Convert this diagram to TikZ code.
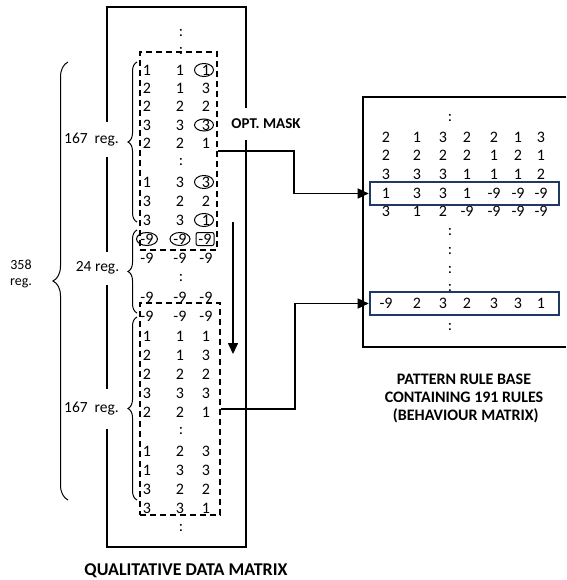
\documentclass[tikz,border=0pt]{standalone}
\usepackage{fontspec}
\setmainfont{Carlito}
\usetikzlibrary{arrows.meta,decorations.pathreplacing,calc}
\definecolor{navy}{RGB}{31,56,100}
\newcommand\lrow[5]{%
  \node[txt] (#1a) at (147,#2) {#3};
  \node[txt] (#1b) at (180,#2) {#4};
  \node[txt] (#1c) at (206,#2) {#5};}
\newcommand\rrow[9]{%
  \node[txt] (#1a) at (386,#2) {#3};
  \node[txt] (#1b) at (417,#2) {#4};
  \node[txt] (#1c) at (443,#2) {#5};
  \node[txt] (#1d) at (467,#2) {#6};
  \node[txt] (#1e) at (494,#2) {#7};
  \node[txt] (#1f) at (518,#2) {#8};
  \node[txt] (#1g) at (541,#2) {#9};}
\begin{document}
\begin{tikzpicture}[x=1pt,y=-1pt,
  txt/.style={inner sep=0pt,font=\fontsize{16}{19}\selectfont},
  lbl/.style={fill=white,inner xsep=2pt,inner ysep=0pt,font=\fontsize{15.5}{18}\selectfont},
  captxt/.style={inner sep=0pt,align=center,font=\fontsize{16}{18}\selectfont\bfseries},
  solidbox/.style={draw,line width=1.3pt,inner sep=0pt},
  dbox/.style={draw,line width=1.8pt,dash pattern=on 6pt off 4pt,inner sep=0pt},
  hbox/.style={draw=navy,line width=2.6pt,inner sep=0pt,minimum width=189pt,minimum height=23pt},
  ring/.style={line width=1pt},
  brc/.style={decorate,line width=1pt,decoration={brace,amplitude=#1}},
  arr/.style={line width=1.6pt,-{Triangle[length=11pt,width=10pt]}},
  plain/.style={line width=1.6pt}]
\useasboundingbox (0,0) rectangle (566,580);

% big data matrix box
\node[solidbox,minimum width=139pt,minimum height=540pt] (bigbox) at (176.5,277) {};

% dashed option boxes
\node[dbox,minimum width=77pt,minimum height=198pt] (box1) at (178.5,151) {};
\node[dbox,minimum width=80pt,minimum height=212pt] (box2) at (180,409) {};

% colons
\node[txt] (c1) at (181,33) {:};
\node[txt] (c2) at (181,51) {:};
\node[txt] (c3) at (181,162) {:};
\node[txt] (c4) at (181,278) {:};
\node[txt] (c5) at (181,431) {:};
\node[txt] (c6) at (181,528) {:};

% rows
\lrow{la}{70}{1}{1}{1}
\lrow{lb}{88}{2}{1}{3}
\lrow{lc}{106}{2}{2}{2}
\lrow{ld}{125}{3}{3}{3}
\lrow{le}{143}{2}{2}{1}
\lrow{lf}{182}{1}{3}{3}
\lrow{lg}{201}{3}{2}{2}
\lrow{lh}{220}{3}{3}{1}
\node[txt] (lia) at (147,239) {-9};
\node[txt] (lib) at (180,239) {-9};
\node[txt,draw,line width=1pt,rounded corners=2pt,minimum width=18pt,minimum height=13pt] (lic) at (205,239) {-9};
\lrow{lj}{258}{-9}{-9}{-9}
\lrow{lk}{297}{-9}{-9}{-9}
\lrow{ll}{316}{-9}{-9}{-9}
\lrow{lm}{336}{1}{1}{1}
\lrow{ln}{355}{2}{1}{3}
\lrow{lo}{374}{2}{2}{2}
\lrow{lp}{393}{3}{3}{3}
\lrow{lq}{412}{2}{2}{1}
\lrow{lr}{451}{1}{2}{3}
\lrow{ls}{470}{1}{3}{3}
\lrow{lt}{489}{3}{2}{2}
\lrow{lu}{508}{3}{3}{1}

% rings
\draw[ring] ($(lac)+(-2,0)$) ellipse [x radius=9.5pt,y radius=6.5pt];
\draw[ring] ($(ldc)+(-2,0)$) ellipse [x radius=9.5pt,y radius=6pt];
\draw[ring] ($(lfc)+(-2,0)$) ellipse [x radius=9.5pt,y radius=6.5pt];
\draw[ring] ($(lhc)+(-2,0)$) ellipse [x radius=9.5pt,y radius=6.5pt];
\draw[ring] (lia) ellipse [x radius=10.5pt,y radius=6.5pt];
\draw[ring] (lib) ellipse [x radius=10pt,y radius=6.5pt];

% braces
\draw[brc=9pt] (137,222) -- (137,62);
\draw[brc=9pt] (137,313) -- (137,230);
\draw[brc=9pt] (137,500) -- (137,317);
\draw[brc=15pt] (68,500) -- (68,62);

% labels (white fill breaks the box edge)
\node[lbl,minimum height=35pt] (reg1) at (91.5,140) {167~ reg.};
\node[lbl,minimum height=33pt] (reg2) at (97.5,268) {24 reg.};
\node[lbl,minimum height=40pt] (reg3) at (91.5,409) {167~ reg.};
\node[inner sep=0pt,align=center,font=\fontsize{14}{16}\selectfont] (reg4) at (21,274) {358\\reg.};
\node[captxt,font=\fontsize{15}{18}\selectfont\bfseries,fill=white,minimum height=32pt,inner xsep=1pt] (mask) at (266,124) {OPT. MASK};

% pattern rule base box
\draw[line width=1.3pt] (566,97) -| (363,347) -- (566,347);
\node[txt] (rc0) at (450,118) {:};
\rrow{ra}{137}{2}{1}{3}{2}{2}{1}{3}
\rrow{rb}{155.5}{2}{2}{2}{2}{1}{2}{1}
\rrow{rc}{174}{3}{3}{3}{1}{1}{1}{2}
\rrow{rd}{193}{1}{3}{3}{1}{-9}{-9}{-9}
\rrow{re}{211}{3}{1}{2}{-9}{-9}{-9}{-9}
\node[txt] (rc1) at (450,232) {:};
\node[txt] (rc2) at (450,251) {:};
\node[txt] (rc3) at (450,270) {:};
\node[txt] (rc4) at (450,288) {:};
\rrow{rf}{303.5}{-9}{2}{3}{2}{3}{3}{1}
\node[txt] (rc5) at (450,327) {:};
\node[hbox] (hl1) at (464.5,193.5) {};
\node[hbox] (hl2) at (464.5,303.5) {};

% connectors
\draw[arr] (box1.east) -- ++(76,0) |- (hl1.west);
\draw[arr] (box2.east) -- ++(74,0) |- (hl2.west);
\coordinate (dtop) at (233,222);
\coordinate (dbot) at (233,354);
\draw[arr] (dtop) -- (dbot);

% captions
\node[captxt] (prb) at (464,398) {PATTERN RULE BASE\\CONTAINING 191 RULES\\\ (BEHAVIOUR MATRIX)};
\node[captxt,font=\fontsize{18}{20}\selectfont\bfseries] (qdm) at (186,571) {QUALITATIVE DATA MATRIX};
\end{tikzpicture}
\end{document}
